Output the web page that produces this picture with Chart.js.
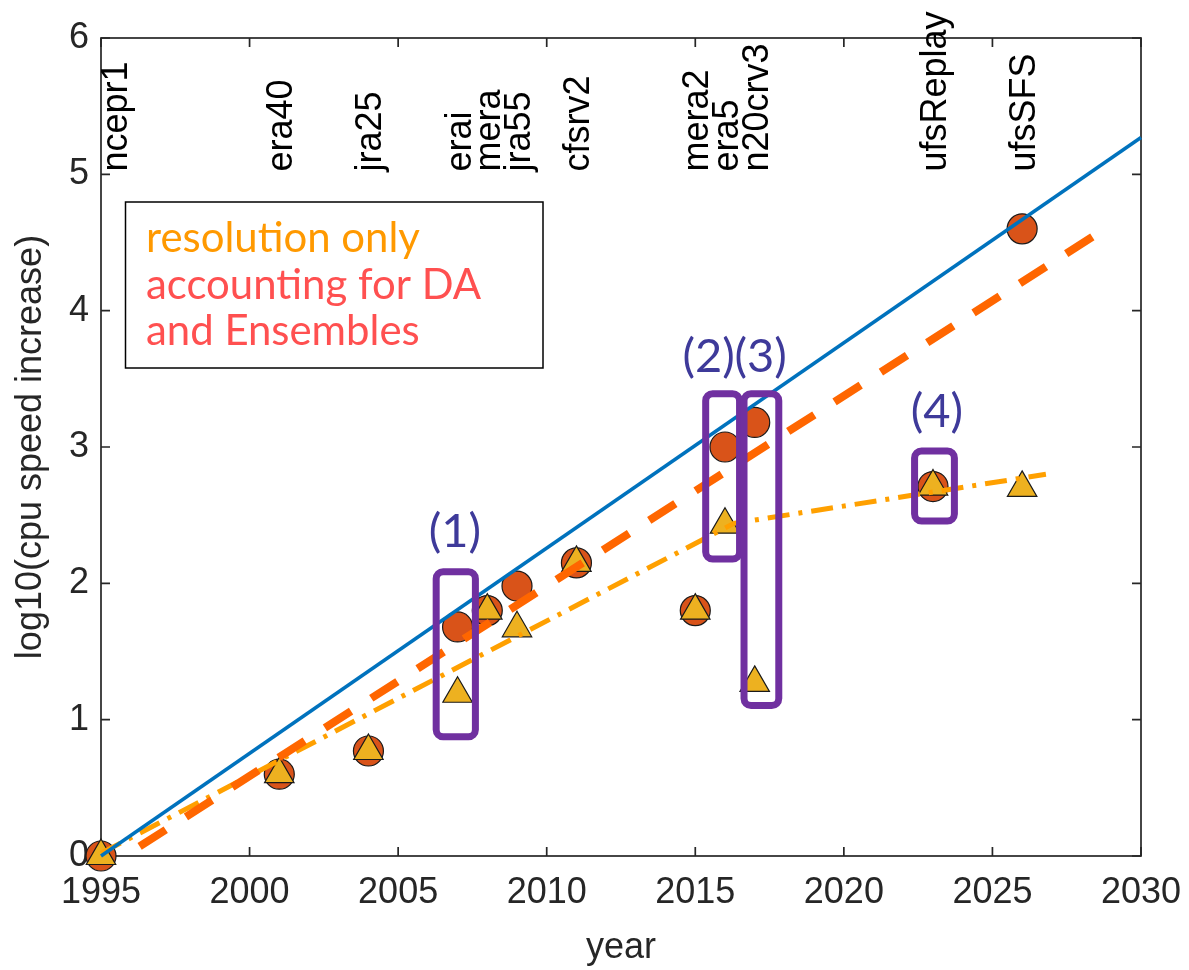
<!DOCTYPE html>
<html><head><meta charset="utf-8">
<script src="https://cdn.jsdelivr.net/npm/chart.js@4.4.1/dist/chart.umd.min.js"></script>
<style>html,body{margin:0;padding:0;background:#fff;}#wrap{width:1189px;height:970px;}</style>
</head><body><div id="wrap"><canvas id="c" width="1189" height="970"></canvas></div>
<script>
// ---------- data ----------
const years = [1995, 2001, 2004, 2007, 2008, 2009, 2011, 2015, 2016, 2017, 2023, 2026];
const names = ['ncepr1','era40','jra25','erai','mera','jra55','cfsrv2','mera2','era5','n20crv3','ufsReplay','ufsSFS'];
const labelYears = [1995.45, 2001, 2004, 2007, 2008, 2009, 2011, 2015, 2016, 2017, 2023, 2026];
const labelBaseValue = 5.02;
const accountingDA   = [0, 0.60, 0.77, 1.68, 1.80, 1.98, 2.15, 1.80, 3.00, 3.18, 2.71, 4.60];
const resolutionOnly = [0, 0.60, 0.77, 1.19, 1.80, 1.67, 2.15, 1.80, 2.43, 1.27, 2.71, 2.70];
const trendSolidX = [1995, 2030];
const trendSolidY = [0, 5.27];
const trendDAX = [1996.3, 2029];
const trendDAY = [0.07, 4.63];
const trendResX = [1995, 2016.3, 2026.8];
const trendResY = [0.02, 2.44, 2.80];
const xTicks = [1995, 2000, 2005, 2010, 2015, 2020, 2025, 2030];
const yTicks = [0, 1, 2, 3, 4, 5, 6];
const legendLines = ['resolution only', 'accounting for DA', 'and Ensembles'];
const boxLabels = ['(1)', '(2)', '(3)', '(4)'];
const boxX0 = [2006.28, 2015.35, 2016.64, 2022.38];
const boxX1 = [2007.60, 2016.49, 2017.81, 2023.72];
const boxY0 = [0.875, 2.178, 1.104, 2.457];
const boxY1 = [2.085, 3.391, 3.391, 2.971];
const boxLabelX = [2006.91, 2015.45, 2017.2, 2023.13];
const boxLabelY = [2.377, 3.664, 3.664, 3.257];

const pts = (xs, ys) => xs.map((v, i) => ({x: v, y: ys[i]}));
const AX = '#262626';
const FONT = '"Liberation Sans", Arial, sans-serif';

const decor = {
  id: 'decor',
  beforeDatasetsDraw(chart) {
    const {ctx, chartArea: a, scales: {x, y}} = chart;
    ctx.save();
    ctx.strokeStyle = AX; ctx.lineWidth = 1.7;
    ctx.strokeRect(a.left, a.top, a.right - a.left, a.bottom - a.top);
    ctx.beginPath();
    x.ticks.forEach(t => { const p = x.getPixelForValue(t.value);
      ctx.moveTo(p, a.bottom); ctx.lineTo(p, a.bottom - 9);
      ctx.moveTo(p, a.top); ctx.lineTo(p, a.top + 9); });
    y.ticks.forEach(t => { const p = y.getPixelForValue(t.value);
      ctx.moveTo(a.left, p); ctx.lineTo(a.left + 9, p);
      ctx.moveTo(a.right, p); ctx.lineTo(a.right - 9, p); });
    ctx.stroke();
    ctx.fillStyle = '#000'; ctx.font = '36px ' + FONT;
    ctx.textAlign = 'left'; ctx.textBaseline = 'alphabetic';
    names.forEach((n, i) => {
      const px = x.getPixelForValue(labelYears[i]) + 13;
      const py = y.getPixelForValue(labelBaseValue);
      ctx.save(); ctx.translate(px, py); ctx.rotate(-Math.PI / 2); ctx.fillText(n, 0, 0); ctx.restore();
    });
    ctx.strokeStyle = '#000'; ctx.lineWidth = 1.5;
    ctx.strokeRect(125.5, 202, 417.5, 166);
    ctx.font = '100px Lato';
    const w = ctx.measureText(legendLines[1]).width;
    const fs = 100 * 335 / w;
    ctx.font = fs.toFixed(1) + 'px Lato';
    ctx.fillStyle = '#FF9900'; ctx.fillText(legendLines[0], 146, 252);
    ctx.fillStyle = '#FF5050'; ctx.fillText(legendLines[1], 146, 298.5);
    ctx.fillText(legendLines[2], 146, 345);
    ctx.restore();
  },
  afterDatasetsDraw(chart) {
    const {ctx, scales: {x, y}} = chart;
    ctx.save();
    ctx.strokeStyle = '#7030A0'; ctx.lineWidth = 7;
    boxX0.forEach((v, i) => {
      const l = x.getPixelForValue(v), r = x.getPixelForValue(boxX1[i]);
      const t = y.getPixelForValue(boxY1[i]), b = y.getPixelForValue(boxY0[i]);
      ctx.beginPath(); ctx.roundRect(l, t, r - l, b - t, 7); ctx.stroke();
    });
    ctx.fillStyle = '#3E3A9A'; ctx.font = '47px Lato';
    ctx.textAlign = 'center'; ctx.textBaseline = 'middle';
    boxLabels.forEach((s, i) => ctx.fillText(s, x.getPixelForValue(boxLabelX[i]), y.getPixelForValue(boxLabelY[i])));
    ctx.restore();
  }
};

new Chart(document.getElementById('c'), {
  type: 'scatter',
  data: {
    datasets: [
      { label: 'trend all', data: pts(trendSolidX, trendSolidY), showLine: true, borderColor: '#0072BD', borderWidth: 3.5, pointRadius: 0, clip: false },
      { label: 'trend DA', data: pts(trendDAX, trendDAY), showLine: true, borderColor: '#FF6600', borderWidth: 8, borderDash: [31, 24], borderCapStyle: 'butt', pointRadius: 0, clip: false },
      { label: 'trend resolution', data: pts(trendResX, trendResY), showLine: true, borderColor: '#FFA000', borderWidth: 5, borderDash: [22, 9, 4, 9], borderCapStyle: 'butt', pointRadius: 0, clip: false },
      { label: 'resolution only', data: pts(years, resolutionOnly), pointStyle: 'triangle', pointRadius: 17, pointBackgroundColor: '#EDB120', pointBorderColor: '#1a1a1a', pointBorderWidth: 1.2, clip: false },
      { label: 'accounting for DA and Ensembles', data: pts(years, accountingDA), pointStyle: 'circle', pointRadius: 15, pointBackgroundColor: '#D95319', pointBorderColor: '#1a1a1a', pointBorderWidth: 1.2, clip: false }
    ]
  },
  options: {
    responsive: false, animation: false, devicePixelRatio: 1,
    layout: { padding: { left: 0, right: 48, top: 38, bottom: 0 } },
    plugins: { legend: { display: false }, tooltip: { enabled: false } },
    scales: {
      x: {
        type: 'linear', min: 1995, max: 2030,
        afterBuildTicks: s => { s.ticks = xTicks.map(v => ({ value: v })); },
        afterFit: s => { s.height = 114; s.paddingLeft = 0; s.paddingRight = 0; },
        grid: { display: false, drawTicks: false }, border: { display: false },
        ticks: { font: { family: FONT, size: 36 }, color: AX, padding: 15, maxRotation: 0, callback: v => String(v) },
        title: { display: true, text: 'year', font: { family: FONT, size: 36 }, color: AX, padding: { top: 0, bottom: 0 } }
      },
      y: {
        type: 'linear', min: 0, max: 6,
        afterBuildTicks: s => { s.ticks = yTicks.map(v => ({ value: v })); },
        afterFit: s => { s.width = 101; s.paddingTop = 0; s.paddingBottom = 0; },
        grid: { display: false, drawTicks: false }, border: { display: false },
        ticks: { font: { family: FONT, size: 36 }, color: AX, padding: 12 },
        title: { display: true, text: 'log10(cpu speed increase)', font: { family: FONT, size: 36 }, color: AX, padding: { top: 9, bottom: 0 } }
      }
    }
  },
  plugins: [decor]
});
</script></body></html>
